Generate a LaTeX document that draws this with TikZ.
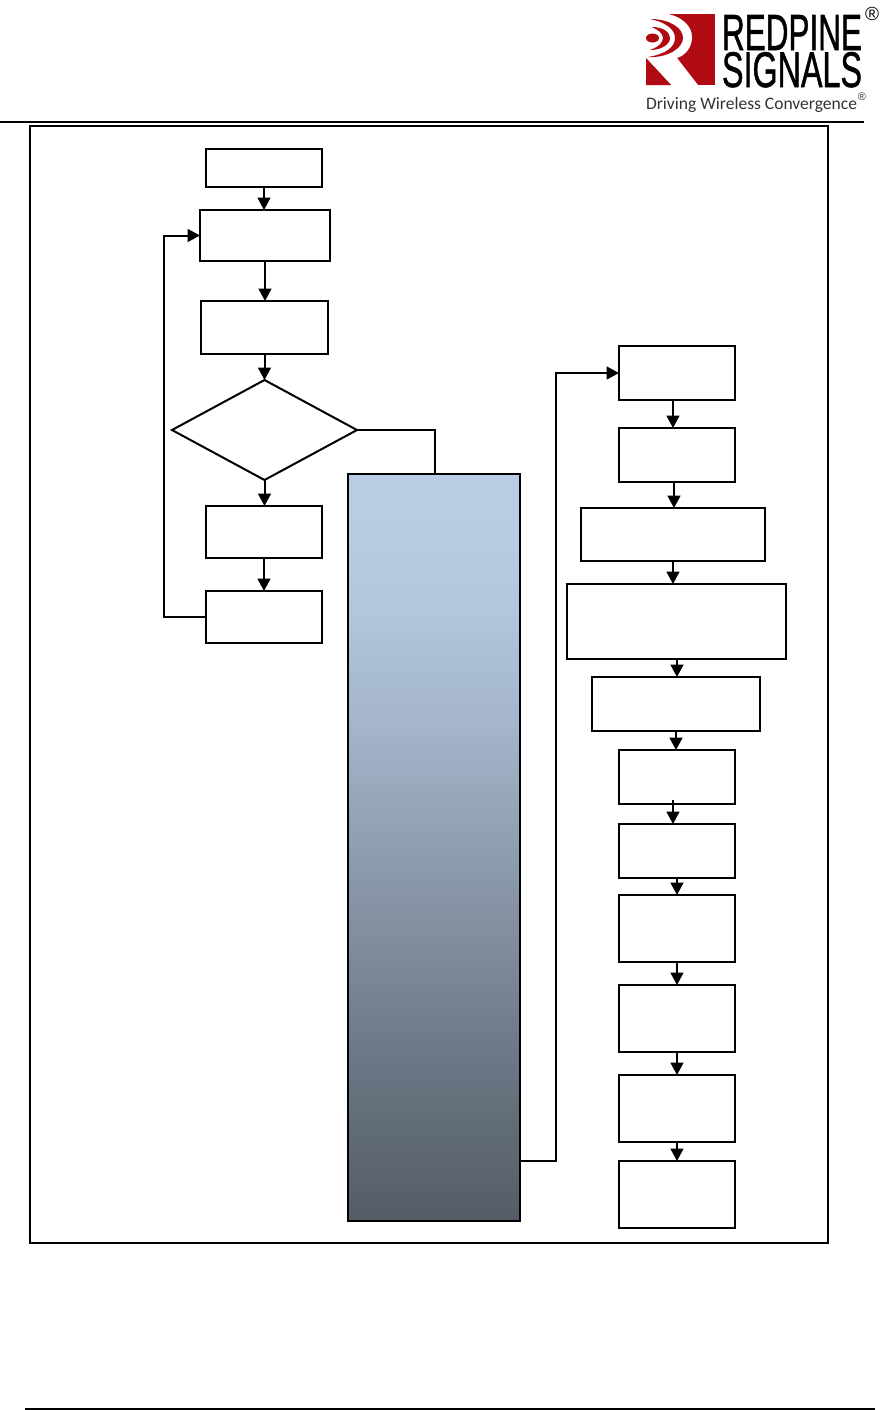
\documentclass[tikz,border=0pt]{standalone}
\usepackage{fontspec}
\setmainfont{Liberation Sans}
\newfontfamily\tagfont{Carlito}
\newfontfamily\logofont[FakeBold=1.2]{Liberation Sans}
\usetikzlibrary{arrows.meta,shapes.geometric,calc}
\definecolor{logored}{HTML}{B00A12}
\definecolor{gradtop}{HTML}{B8CCE4}
\definecolor{gradA}{HTML}{B3C6DE}
\definecolor{gradB}{HTML}{A3B4CB}
\definecolor{gradmid}{HTML}{8F9EB0}
\definecolor{gradC}{HTML}{6E7A88}
\definecolor{gradbot}{HTML}{545C67}
\pgfdeclareverticalshading{barshade}{100bp}{color(0bp)=(gradbot);color(25bp)=(gradbot);color(37bp)=(gradC);color(50bp)=(gradmid);color(58bp)=(gradB);color(66bp)=(gradA);color(72bp)=(gradtop);color(100bp)=(gradtop)}
\tikzset{
  x=0.5pt,y=-0.5pt,
  boxnode/.style={draw=black,line width=1pt,fill=white,rectangle,inner sep=0pt,outer sep=0pt},
  decision/.style={draw=black,line width=1pt,fill=white,diamond,aspect=1.85,inner sep=0pt,outer sep=0pt,minimum width=92.5pt,minimum height=50pt},
  flow/.style={draw=black,line width=1pt,-{Triangle[length=6.2pt,width=6.4pt]}},
  plain/.style={draw=black,line width=1pt},
  rulebar/.style={draw=black,line width=1.2pt},
  logotext/.style={inner sep=0pt,outer sep=0pt,text=black}
}
\newcommand{\bx}[5]{\node[boxnode,minimum width=#4pt,minimum height=#5pt] (#1) at (#2,#3) {};}
\begin{document}
\begin{tikzpicture}
\useasboundingbox (0,0) rectangle (880,1410);
% page rules and frame
\coordinate (hl) at (0,122); \coordinate (hr) at (864,122);
\coordinate (fl) at (25,1409); \coordinate (fr) at (875,1409);
\draw[rulebar] (hl) -- (hr);
\draw[rulebar] (fl) -- (fr);
\node[draw=black,line width=1pt,rectangle,inner sep=0pt,outer sep=0pt,minimum width=398.75pt,minimum height=558.5pt] (frame) at (429,684.5) {};
% logo
\fill[logored] (646,14) rectangle (715,85);
\fill[white] (646,14) -- (668,14) .. controls (682,17) and (692,26) .. (692,37) .. controls (692,47) and (686,55) .. (677,58) -- (698,85) -- (671,85) -- (646,58) -- cycle;
\fill[logored] (646,58) -- (671,85) -- (646,85) -- cycle;
\fill[logored] (652.5,38) ellipse [x radius=6.5,y radius=4.5];
\fill[logored] (652,27) .. controls (664,27) and (670,33) .. (670,38) .. controls (670,44) and (662,50) .. (650,50) .. controls (658,47) and (663,43) .. (663,38) .. controls (663,33) and (658,30) .. (652,27) -- cycle;
\fill[logored] (650,19) .. controls (670,19) and (683,28) .. (683,38) .. controls (683,48) and (668,58) .. (648,57) .. controls (666,54) and (675,47) .. (675,38) .. controls (675,29) and (665,22) .. (650,19) -- cycle;
\node[logotext,anchor=north west] (lg1) at (722,15) {\resizebox{70pt}{17.5pt}{\logofont REDPINE}};
\node[logotext,anchor=north west] (lg2) at (722,52) {\resizebox{70pt}{17.5pt}{\logofont SIGNALS}};
\node[logotext,anchor=center] (lg3) at (872,14) {\fontsize{9.5pt}{10pt}\selectfont ®};
\node[logotext,anchor=west,text=black!80] (lg4) at (646,104.5) {\resizebox{105.5pt}{!}{\tagfont Driving Wireless Convergence}};
\node[logotext,anchor=center,text=black!80] (lg5) at (862,97) {\fontsize{5.5pt}{6pt}\selectfont ®};
% left column
\bx{s1}{264}{168}{58}{19}
\bx{s2}{265}{235.5}{65}{25.5}
\bx{s3}{264.5}{327.5}{63.5}{26.5}
\node[decision] (d1) at (264.5,430) {};
\bx{s4}{264}{532}{58}{26}
\bx{s5}{264}{617}{58}{26}
% gradient bar
\node[draw=black,line width=1pt,rectangle,inner sep=0pt,outer sep=0pt,shading=barshade,minimum width=86pt,minimum height=373.5pt] (bar) at (434,847.5) {};
% right column
\bx{r1}{677}{373}{58}{27}
\bx{r2}{677}{455}{58}{27}
\bx{r3}{673}{534.5}{92}{26.5}
\bx{r4}{676.5}{621.5}{109.5}{37.5}
\bx{r5}{676}{704}{84}{27}
\bx{r6}{677}{777}{58}{27}
\bx{r7}{677}{851}{58}{27}
\bx{r8}{677}{928.5}{58}{33.5}
\bx{r9}{677}{1018.5}{58}{33.5}
\bx{r10}{677}{1108.5}{58}{33.5}
\bx{r11}{677}{1194.5}{58}{33.5}
% connectors left
\draw[flow] (s1.south) -- (s1.south |- s2.north);
\draw[flow] (s2.south) -- (s2.south |- s3.north);
\draw[flow] (s3.south) -- (s3.south |- d1.north);
\draw[flow] (d1.south) -- (d1.south |- s4.north);
\draw[flow] (s4.south) -- (s4.south |- s5.north);
\coordinate (loopx) at (164,617);
\draw[flow] (s5.west) -- (loopx) |- (s2.west);
\draw[plain] (d1.east) -| ([xshift=0.5pt]bar.north);
\coordinate (barout) at (520,1161);
\coordinate (busx) at (556,1161);
\draw[flow] (barout) -- (busx) |- (r1.west);
% connectors right
\coordinate (a1) at (673,400); \coordinate (a2) at (673,428);
\draw[flow] (a1) -- (a2);
\coordinate (a3) at (674,482); \coordinate (a4) at (674,508);
\draw[flow] (a3) -- (a4);
\coordinate (a5) at (673,561); \coordinate (a6) at (673,584);
\draw[flow] (a5) -- (a6);
\coordinate (a7) at (677,659); \coordinate (a8) at (677,677);
\draw[flow] (a7) -- (a8);
\coordinate (a9) at (676,731); \coordinate (a10) at (676,750);
\draw[flow] (a9) -- (a10);
\coordinate (a11) at (673,800); \coordinate (a12) at (673,824);
\draw[flow] (a11) -- (a12);
\draw[flow] (r7.south) -- (r8.north);
\draw[flow] (r8.south) -- (r9.north);
\draw[flow] (r9.south) -- (r10.north);
\draw[flow] (r10.south) -- (r11.north);
\end{tikzpicture}
\end{document}
